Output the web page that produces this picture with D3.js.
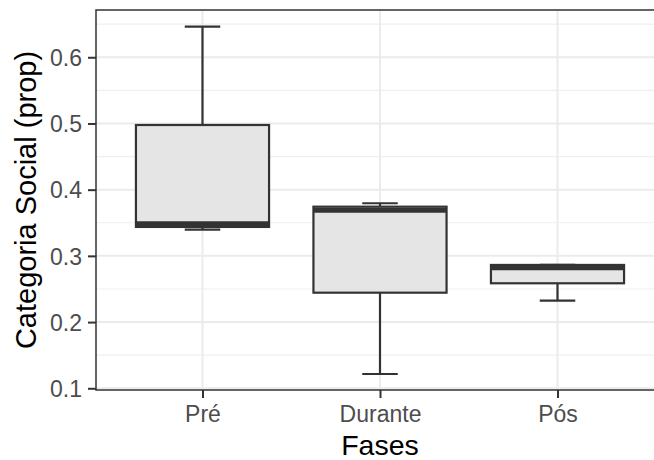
<!DOCTYPE html>
<html>
<head>
<meta charset="utf-8">
<script src="https://cdn.jsdelivr.net/npm/d3@7"></script>
<style>
  body { margin: 0; background: #fff; }
  text { font-family: 'Liberation Sans', Arial, sans-serif; }
</style>
</head>
<body>
<svg width="654" height="460"></svg>
<script>
// box summary per phase
let phases = ['Pré', 'Durante', 'Pós'];
let lowerWhisker = [0.3396, 0.1216, 0.2323];
let q1Values = [0.3437, 0.2444, 0.2586];
let medianValues = [0.3485, 0.3690, 0.2822];
let q3Values = [0.4977, 0.3743, 0.2863];
let upperWhisker = [0.6462, 0.3795, 0.2863];

let yTicks = [0.1, 0.2, 0.3, 0.4, 0.5, 0.6];
let yMinor = [0.15, 0.25, 0.35, 0.45, 0.55, 0.65];

let svg = d3.select('svg'),
    width = +svg.attr('width'),
    height = +svg.attr('height');

// panel edges (right edge runs past the picture, as in the reference)
let pLeft = 96, pTop = 10, pBottom = 390, pRight = 664;

let x = d3.scalePoint()
    .domain(phases)
    .range([pLeft, pRight])
    .padding(0.6);

let y = d3.scaleLinear()
    .domain([0.0974, 0.6714])
    .range([pBottom, pTop]);

let step = x.step();
let boxes = phases.map(function(p, i) {
  return {name: p, lo: lowerWhisker[i], q1: q1Values[i], med: medianValues[i], q3: q3Values[i], hi: upperWhisker[i]};
});

// grid
let grid = svg.append('g');
grid.selectAll('.minor').data(yMinor).enter().append('line')
    .attr('x1', pLeft).attr('x2', pRight)
    .attr('y1', function(d) { return y(d); })
    .attr('y2', function(d) { return y(d); })
    .attr('stroke', '#efefef').attr('stroke-width', 1.2);
grid.selectAll('.major').data(yTicks).enter().append('line')
    .attr('x1', pLeft).attr('x2', pRight)
    .attr('y1', function(d) { return y(d); })
    .attr('y2', function(d) { return y(d); })
    .attr('stroke', '#ebebeb').attr('stroke-width', 2);
grid.selectAll('.vmajor').data(phases).enter().append('line')
    .attr('x1', function(d) { return x(d); })
    .attr('x2', function(d) { return x(d); })
    .attr('y1', pTop).attr('y2', pBottom)
    .attr('stroke', '#ebebeb').attr('stroke-width', 2);

// boxes
let g = svg.append('g');
let half = step * 0.75 / 2,
    cap = step * 0.1;

g.selectAll('.whisker').data(boxes).enter().append('path')
    .attr('d', function(d) {
      let cx = x(d.name);
      return 'M' + cx + ',' + y(d.q3) + 'V' + y(d.hi) + 'M' + (cx - cap) + ',' + y(d.hi) + 'H' + (cx + cap)
           + 'M' + cx + ',' + y(d.q1) + 'V' + y(d.lo) + 'M' + (cx - cap) + ',' + y(d.lo) + 'H' + (cx + cap);
    })
    .attr('fill', 'none').attr('stroke', '#333').attr('stroke-width', 2.2);

g.selectAll('.box').data(boxes).enter().append('rect')
    .attr('x', function(d) { return x(d.name) - half; })
    .attr('width', half * 2)
    .attr('y', function(d) { return y(d.q3); })
    .attr('height', function(d) { return y(d.q1) - y(d.q3); })
    .attr('fill', '#e5e5e5').attr('stroke', '#333').attr('stroke-width', 2.2);

g.selectAll('.median').data(boxes).enter().append('line')
    .attr('x1', function(d) { return x(d.name) - half; })
    .attr('x2', function(d) { return x(d.name) + half; })
    .attr('y1', function(d) { return y(d.med); })
    .attr('y2', function(d) { return y(d.med); })
    .attr('stroke', '#333').attr('stroke-width', 5);

// panel border
svg.append('rect')
    .attr('x', pLeft).attr('y', pTop)
    .attr('width', pRight - pLeft).attr('height', pBottom - pTop)
    .attr('fill', 'none').attr('stroke', '#333').attr('stroke-width', 1.5);

// axes
let yAxis = svg.append('g')
    .attr('transform', 'translate(' + pLeft + ',0)')
    .call(d3.axisLeft(y).tickValues(yTicks).tickFormat(d3.format('.1f')).tickSize(8).tickPadding(6));
let xAxis = svg.append('g')
    .attr('transform', 'translate(0,' + pBottom + ')')
    .call(d3.axisBottom(x).tickSize(8).tickPadding(8));

[yAxis, xAxis].forEach(function(a) {
  a.select('.domain').remove();
  a.selectAll('.tick line').attr('stroke', '#333').attr('stroke-width', 2);
  a.selectAll('.tick text').attr('fill', '#4d4d4d').attr('font-size', 23)
      .attr('font-family', "'Liberation Sans', Arial, sans-serif");
});
yAxis.selectAll('.tick text').attr('dy', '0.36em');

// titles
svg.append('text')
    .attr('x', x('Durante')).attr('y', 455)
    .attr('text-anchor', 'middle')
    .attr('font-size', 28.5)
    .text('Fases');

svg.append('text')
    .attr('transform', 'translate(36,' + ((pTop + pBottom) / 2) + ') rotate(-90)')
    .attr('text-anchor', 'middle')
    .attr('font-size', 29)
    .text('Categoria Social (prop)');
</script>
</body>
</html>
